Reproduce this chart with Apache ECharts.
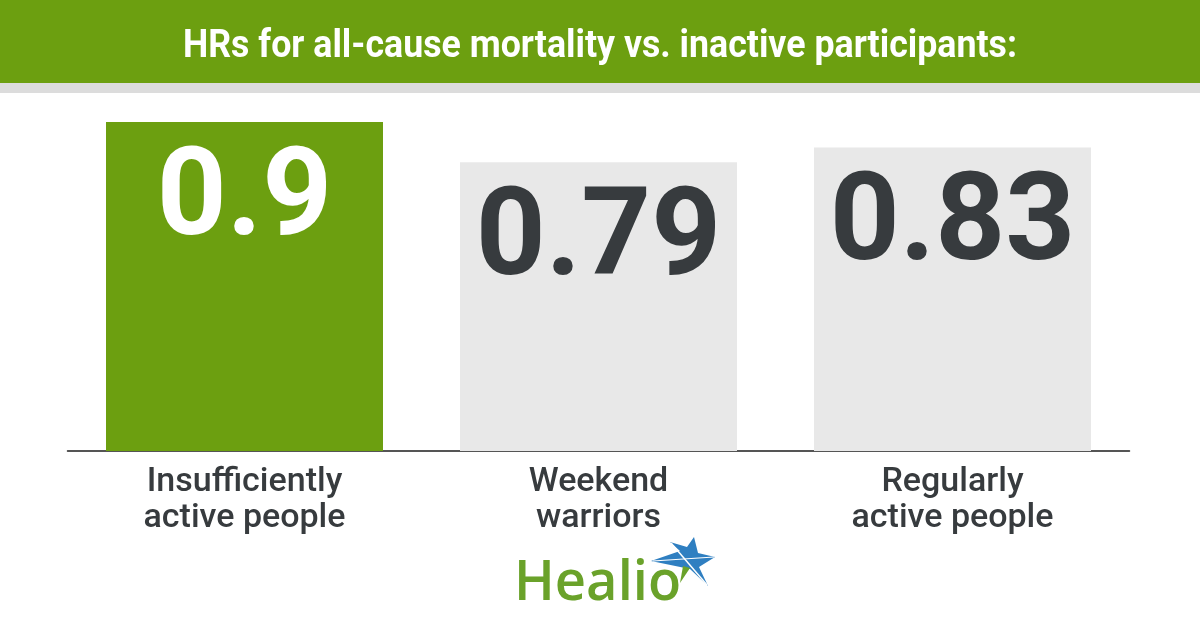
<!DOCTYPE html>
<html>
<head>
<meta charset="utf-8">
<script src="https://cdn.jsdelivr.net/npm/echarts@6/dist/echarts.min.js"></script>
<style>
html,body{margin:0;padding:0;background:#fff;}
#main{width:1200px;height:630px;}
</style>
</head>
<body>
<div id="main"></div>
<script>
const titleText = 'HRs for all-cause mortality vs. inactive participants:';
const categories = ['Insufficiently\nactive people', 'Weekend\nwarriors', 'Regularly\nactive people'];
const hrValues = [0.9, 0.79, 0.83];
const valueLabels = ['0.9', '0.79', '0.83'];

const GREEN = '#6c9f10';
const GRAY_BAR = '#e8e8e8';
const DARK = '#373b3e';

function measure(text, font) {
  const c = document.createElement('canvas').getContext('2d');
  c.font = font;
  return c.measureText(text).width;
}
const titleFont = 'bold 38px Roboto';
const titleW = measure(titleText, titleFont);
const titleScale = 834 / titleW;

const chart = echarts.init(document.getElementById('main'), null, {renderer: 'canvas'});

const barData = hrValues.map((v, i) => ({
  value: v,
  itemStyle: {color: i === 0 ? GREEN : GRAY_BAR},
  label: {color: i === 0 ? '#ffffff' : DARK, formatter: valueLabels[i]}
}));

chart.setOption({
  animation: false,
  backgroundColor: '#ffffff',
  grid: {left: 67.5, right: 70.5, top: 122, bottom: 179, containLabel: false},
  xAxis: {
    type: 'category',
    data: categories,
    axisLine: {show: true, lineStyle: {color: '#1e1e1e', width: 1.5}},
    axisTick: {show: false},
    axisLabel: {
      margin: 13,
      fontFamily: 'Roboto',
      fontWeight: 500,
      fontSize: 34,
      lineHeight: 36,
      color: DARK,
      align: 'center'
    }
  },
  yAxis: {
    type: 'value', min: 0, max: 0.9, show: false,
    splitLine: {show: false}
  },
  series: [{
    type: 'bar',
    data: barData,
    barWidth: 277,
    label: {
      show: true,
      position: 'insideTop',
      distance: 20,
      fontFamily: 'Roboto',
      fontWeight: 'bold',
      fontSize: 122
    }
  }],
  graphic: [
    {type: 'rect', left: 0, top: 0, z: -1, shape: {width: 1200, height: 83}, style: {fill: GREEN}},
    {type: 'rect', left: 0, top: 83, z: -1, shape: {width: 1200, height: 10}, style: {fill: '#dcdcdc'}},
    {
      type: 'text', x: 600, y: 47, scaleX: titleScale, z: 10,
      style: {
        text: titleText, fill: '#ffffff', font: titleFont,
        align: 'center', verticalAlign: 'middle'
      }
    },
    {
      type: 'text', x: 514, y: 584, scaleX: 0.97, z: 10,
      style: {
        text: 'Healio', fill: '#6aa22a',
        font: '600 56px "Open Sans"',
        align: 'left', verticalAlign: 'middle'
      }
    },
    {
      type: 'polygon', z: 10,
      shape: {points: [[651,561],[680,551],[670,542],[687,547],[694,537],[698,553],[715,557],[699,567],[708,586],[690,569]]},
      style: {fill: '#2f7fc1'}
    },
    {
      type: 'polygon', z: 11,
      shape: {points: [[690,568],[680,583],[683,566]]},
      style: {fill: '#6aa22a'}
    },
    {
      type: 'line', z: 12,
      shape: {x1: 671, y1: 543, x2: 707, y2: 585},
      style: {stroke: '#ffffff', lineWidth: 1.5}
    },
    {
      type: 'line', z: 12,
      shape: {x1: 653, y1: 561, x2: 714, y2: 557},
      style: {stroke: '#ffffff', lineWidth: 1.2}
    }
  ]
});
</script>
</body>
</html>
